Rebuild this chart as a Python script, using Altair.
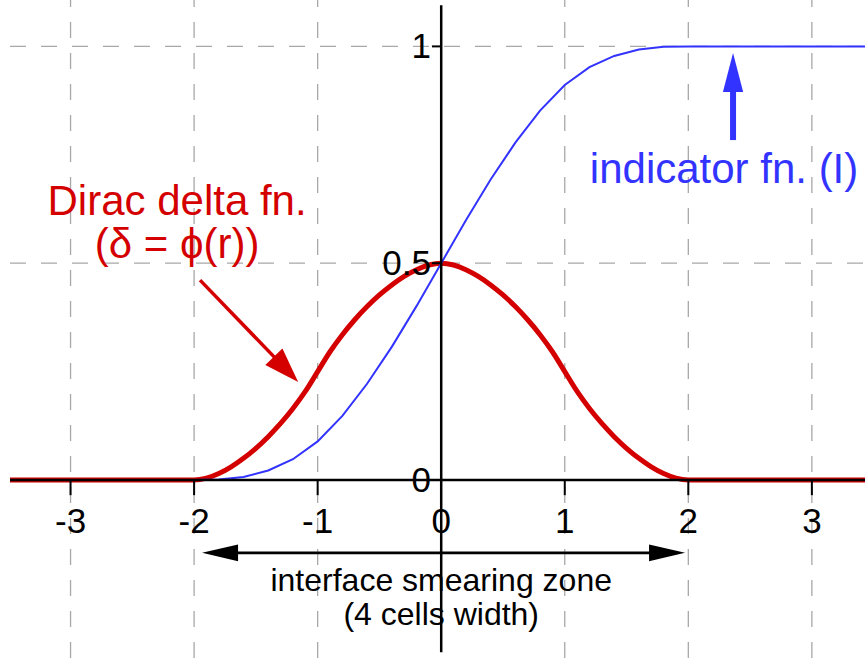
import altair as alt
import pandas as pd

# ---------------- data ----------------
X_MIN, X_MAX = -3.49, 3.43
Y_MIN, Y_MAX = -0.4105, 1.107

# Dirac delta fn. (red, thick)
delta_x = [-3.49, -2.0, -1.9, -1.8, -1.7, -1.6, -1.5, -1.4, -1.3, -1.2, -1.1,
           -1.0, -0.9, -0.8, -0.7, -0.6, -0.5, -0.4, -0.3, -0.2, -0.1,
           0.0, 0.1, 0.2, 0.3, 0.4, 0.5, 0.6, 0.7, 0.8, 0.9,
           1.0, 1.1, 1.2, 1.3, 1.4, 1.5, 1.6, 1.7, 1.8, 1.9, 2.0, 3.43]
delta_y = [0.0, 0.0, 0.0042, 0.0149, 0.0304, 0.05, 0.0732, 0.1, 0.1304, 0.1649, 0.2042,
           0.25, 0.2958, 0.3351, 0.3696, 0.4, 0.4268, 0.45, 0.4696, 0.4851, 0.4958,
           0.5, 0.4958, 0.4851, 0.4696, 0.45, 0.4268, 0.4, 0.3696, 0.3351, 0.2958,
           0.25, 0.2042, 0.1649, 0.1304, 0.1, 0.0732, 0.05, 0.0304, 0.0149, 0.0042, 0.0, 0.0]

# indicator fn. (blue, thin)
ind_x = [-3.49, -2.0, -1.8, -1.6, -1.4, -1.2, -1.0, -0.8, -0.6, -0.4, -0.2,
         0.0, 0.2, 0.4, 0.6, 0.8, 1.0, 1.2, 1.4, 1.6, 1.8, 2.0, 3.43]
ind_y = [0.0, 0.0, 0.001, 0.007, 0.022, 0.048, 0.089, 0.148, 0.222, 0.307, 0.401,
         0.5, 0.599, 0.693, 0.778, 0.852, 0.911, 0.952, 0.978, 0.993, 0.999, 1.0, 1.0]

x_tick_values = [-3, -2, -1, 1, 2, 3]
x_label_values = [-3, -2, -1, 0, 1, 2, 3]
x_label_texts = ["-3", "-2", "-1", "0", "1", "2", "3"]
y_tick_values = [0, 0.5, 1]
y_label_texts = ["0", "0.5", "1"]
y_grid_values = [0.5, 1]

RED = "#d40000"
BLUE = "#3333ff"
GRID = "#a8a8a8"
FONT = "Liberation Sans"


def X(field="x"):
    return alt.X(f"{field}:Q", scale=alt.Scale(domain=[X_MIN, X_MAX], nice=False, zero=False), axis=None)


def Y(field="y"):
    return alt.Y(f"{field}:Q", scale=alt.Scale(domain=[Y_MIN, Y_MAX], nice=False, zero=False), axis=None)


# ---------------- grid ----------------
vgrid = pd.DataFrame({"x": x_tick_values,
                      "y": [Y_MIN] * len(x_tick_values),
                      "y2": [Y_MAX] * len(x_tick_values)})
hgrid = pd.DataFrame({"y": y_grid_values,
                      "x": [X_MIN] * len(y_grid_values),
                      "x2": [X_MAX] * len(y_grid_values)})

vgrid_layer = alt.Chart(vgrid).mark_rule(color=GRID, strokeWidth=1.3, strokeDash=[16, 15], clip=True).encode(
    x=X(), y=Y(), y2="y2")
hgrid_layer = alt.Chart(hgrid).mark_rule(color=GRID, strokeWidth=1.3, strokeDash=[16, 15], clip=True).encode(
    y=Y(), x=X(), x2="x2")

# ---------------- curves ----------------
delta_df = pd.DataFrame({"x": delta_x, "y": delta_y})
ind_df = pd.DataFrame({"x": ind_x, "y": ind_y})

delta_layer = alt.Chart(delta_df).mark_line(color=RED, strokeWidth=5, interpolate="monotone", clip=True).encode(
    x=X(), y=Y())
ind_layer = alt.Chart(ind_df).mark_line(color=BLUE, strokeWidth=2, clip=True).encode(
    x=X(), y=Y())

# ---------------- axes through the origin ----------------
xaxis_df = pd.DataFrame({"x": [X_MIN], "x2": [X_MAX], "y": [0.0]})
yaxis_df = pd.DataFrame({"x": [0.0], "y": [-0.397], "y2": [1.095]})
xaxis_layer = alt.Chart(xaxis_df).mark_rule(color="black", strokeWidth=2.5).encode(x=X(), x2="x2", y=Y())
yaxis_layer = alt.Chart(yaxis_df).mark_rule(color="black", strokeWidth=2.5).encode(x=X(), y=Y(), y2="y2")

xticks_df = pd.DataFrame({"x": x_tick_values, "y": [0.0] * 6, "y2": [-0.035] * 6})
xticks_layer = alt.Chart(xticks_df).mark_rule(color="black", strokeWidth=2).encode(x=X(), y=Y(), y2="y2")
yticks_df = pd.DataFrame({"y": y_tick_values, "x": [-0.075] * 3, "x2": [0.0] * 3})
yticks_layer = alt.Chart(yticks_df).mark_rule(color="black", strokeWidth=2).encode(y=Y(), x=X(), x2="x2")

xlab_df = pd.DataFrame({"x": x_label_values, "y": [-0.1222] * 7, "t": x_label_texts})
xlab_layer = alt.Chart(xlab_df).mark_text(font=FONT, fontSize=35, align="center", baseline="alphabetic",
                                           color="black").encode(x=X(), y=Y(), text="t:N")
ylab_df = pd.DataFrame({"y": y_tick_values, "x": [-0.083] * 3, "t": y_label_texts})
ylab_layer = alt.Chart(ylab_df).mark_text(font=FONT, fontSize=35, align="right", baseline="middle",
                                           color="black", dy=1).encode(x=X(), y=Y(), text="t:N")

# ---------------- arrows ----------------
HEAD_UP_RED = "M0,-1L0.68,1L-0.68,1Z"
HEAD_UP_BLUE = "M0,-1L0.52,1L-0.52,1Z"
HEAD_RIGHT = "M1,0L-1,-0.47L-1,0.47Z"
HEAD_LEFT = "M-1,0L1,-0.47L1,0.47Z"

red_shaft = alt.Chart(pd.DataFrame({"x": [-1.952], "y": [0.461], "x2": [-1.329], "y2": [0.277]})).mark_rule(
    color=RED, strokeWidth=3.5).encode(x=X(), y=Y(), x2="x2", y2="y2")
red_head = alt.Chart(pd.DataFrame({"x": [-1.256], "y": [0.255]})).mark_point(
    shape=HEAD_UP_RED, filled=True, color=RED, size=1225, opacity=1, strokeWidth=0, angle=136).encode(
    x=X(), y=Y())

blue_shaft = alt.Chart(pd.DataFrame({"x": [2.362], "y": [0.784], "y2": [0.904]})).mark_rule(
    color=BLUE, strokeWidth=6).encode(x=X(), y=Y(), y2="y2")
blue_head = alt.Chart(pd.DataFrame({"x": [2.362], "y": [0.940]})).mark_point(
    shape=HEAD_UP_BLUE, filled=True, color=BLUE, size=1521, opacity=1, strokeWidth=0).encode(x=X(), y=Y())

black_shaft = alt.Chart(pd.DataFrame({"x": [-1.661], "x2": [1.690], "y": [-0.168]})).mark_rule(
    color="black", strokeWidth=2.8).encode(x=X(), x2="x2", y=Y())
black_head_l = alt.Chart(pd.DataFrame({"x": [-1.790], "y": [-0.168]})).mark_point(
    shape=HEAD_LEFT, filled=True, color="black", size=1296, opacity=1, strokeWidth=0).encode(x=X(), y=Y())
black_head_r = alt.Chart(pd.DataFrame({"x": [1.828], "y": [-0.168]})).mark_point(
    shape=HEAD_RIGHT, filled=True, color="black", size=1296, opacity=1, strokeWidth=0).encode(x=X(), y=Y())

# ---------------- annotations ----------------
red_text = alt.Chart(pd.DataFrame({"x": [-2.138, -2.138], "y": [0.611, 0.512],
                                   "t": ["Dirac delta fn.", "(δ = ϕ(r))"]})).mark_text(
    font=FONT, fontSize=42, align="center", baseline="alphabetic", color=RED).encode(x=X(), y=Y(), text="t:N")

blue_text = alt.Chart(pd.DataFrame({"x": [1.203], "y": [0.685], "t": ["indicator fn. (I)"]})).mark_text(
    font=FONT, fontSize=42, align="left", baseline="alphabetic", color=BLUE).encode(x=X(), y=Y(), text="t:N")

black_text = alt.Chart(pd.DataFrame({"x": [0.0, 0.0], "y": [-0.256, -0.3344],
                                     "t": ["interface smearing zone", "(4 cells width)"]})).mark_text(
    font=FONT, fontSize=32, align="center", baseline="alphabetic", color="black").encode(x=X(), y=Y(), text="t:N")

chart = alt.layer(
    vgrid_layer, hgrid_layer,
    delta_layer, ind_layer,
    xaxis_layer, yaxis_layer, xticks_layer, yticks_layer,
    xlab_layer, ylab_layer,
    red_shaft, red_head, blue_shaft, blue_head,
    black_shaft, black_head_l, black_head_r,
    red_text, blue_text, black_text,
).properties(
    width=855, height=658,
    padding={"left": 10, "top": 0, "right": 0, "bottom": 0},
    autosize=alt.AutoSizeParams(type="none"),
    background="white",
).configure_view(strokeWidth=0)

chart.save("out.html", embed_options={"renderer": "svg", "actions": False})
